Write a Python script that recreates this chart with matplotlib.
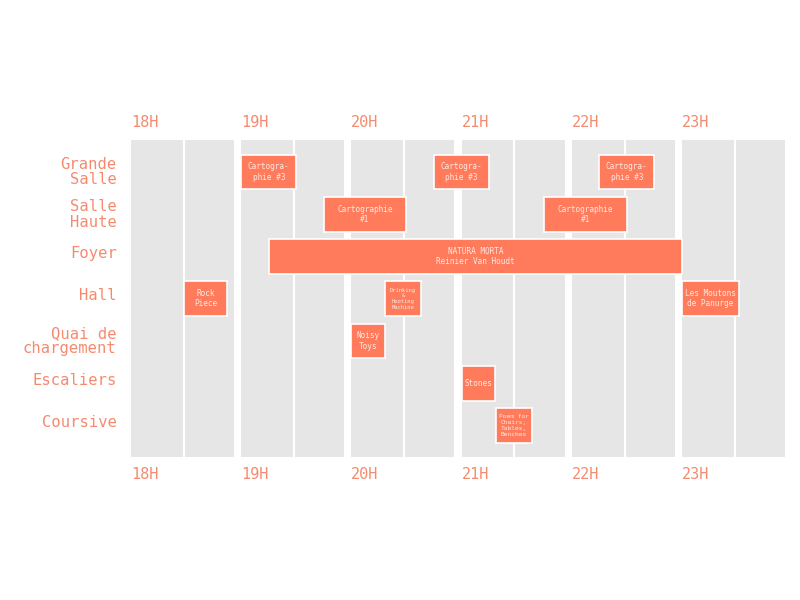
import matplotlib.pyplot as plt
from matplotlib.patches import Rectangle
from matplotlib.transforms import blended_transform_factory

# lieux (lignes du planning)
salles = ["Grande\nSalle", "Salle\nHaute", "Foyer", "Hall",
          "Quai de\nchargement", "Escaliers", "Coursive"]
heures = [18, 19, 20, 21, 22, 23]
heures_labels = ["18H", "19H", "20H", "21H", "22H", "23H"]

# spectacles: salle (index), debut, fin (heures decimales), titre, taille texte
ev_salle = [0, 0, 0, 1, 1, 2, 3, 3, 3, 4, 5, 6]
ev_debut = [19.0, 20.75, 22.25, 19.75, 21.75, 19.25, 18.48, 20.31, 23.0,
            20.0, 21.0, 21.31]
ev_fin = [19.5, 21.25, 22.75, 20.5, 22.5, 23.0, 18.87, 20.63, 23.52,
          20.31, 21.3, 21.64]
ev_titre = ["Cartogra-\nphie #3", "Cartogra-\nphie #3", "Cartogra-\nphie #3",
            "Cartographie\n#1", "Cartographie\n#1",
            "NATURA MORTA\nReinier Van Houdt",
            "Rock\nPiece", "Drinking\n&\nHooting\nMachine",
            "Les Moutons\nde Panurge", "Noisy\nToys", "Stones",
            "Poem for\nChairs,\nTables,\nBenches"]
ev_taille = [5.6, 5.6, 5.6, 5.6, 5.6, 5.6, 5.6, 4.0, 5.6, 5.6, 5.6, 4.5]

corail = "#FF7B5C"
texte = "#F68A6F"
gris = "#E6E6E6"
police = "DejaVu Sans Mono"

fig = plt.figure(figsize=(8, 6), dpi=100)
ax = fig.add_axes([131 / 800, 0.238, 661 / 800, 0.528])
ax.set_xlim(18, 24)
ax.set_ylim(6.75, -0.75)
ax.axis("off")

# colonnes grises (une par heure, coupee a la demi-heure)
for h in heures:
    ax.axvspan(h, h + 0.935, color=gris, lw=0, zorder=0)
    ax.axvline(h + 0.48, color="white", lw=1.5, zorder=1)

# blocs des spectacles
for s, d, f, t, fs in zip(ev_salle, ev_debut, ev_fin, ev_titre, ev_taille):
    ax.add_patch(Rectangle((d, s - 0.41), f - d, 0.82, facecolor=corail,
                           edgecolor="white", lw=1.2, zorder=3))
    ax.text((d + f) / 2, s, t, ha="center", va="center", fontsize=fs,
            color="#FFE9E2", family=police, linespacing=1.2, zorder=4)

# libelles des salles
for i, nom in enumerate(salles):
    dy = 0.0 if "\n" in nom else -0.07
    ax.text(17.87, i + dy, nom, ha="right", va="center", fontsize=11.2,
            color=texte, family=police, linespacing=1.05)

# heures en haut et en bas
trans = blended_transform_factory(ax.transData, ax.transAxes)
for h, lab in zip(heures, heures_labels):
    ax.text(h, 1.055, lab, transform=trans, ha="left", va="center",
            fontsize=11, color=texte, family=police)
    ax.text(h, -0.055, lab, transform=trans, ha="left", va="center",
            fontsize=11, color=texte, family=police)

fig.savefig("out.png", dpi=100)
